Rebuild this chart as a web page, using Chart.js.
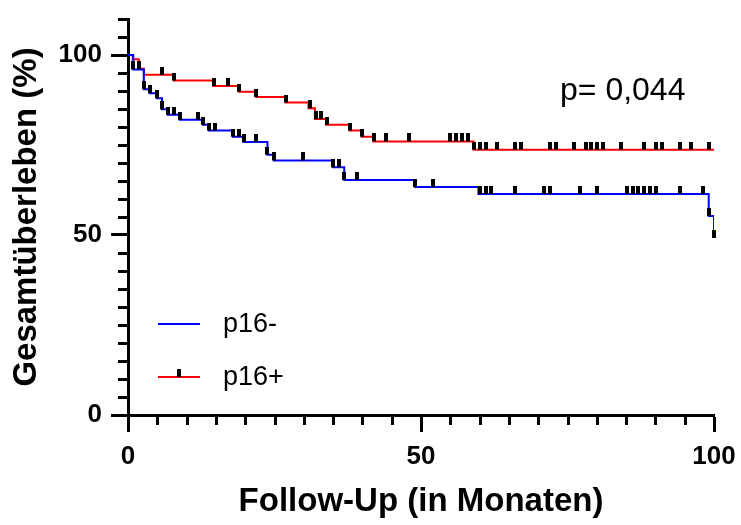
<!DOCTYPE html>
<html>
<head>
<meta charset="utf-8">
<script src="https://cdn.jsdelivr.net/npm/chart.js@4.4.0/dist/chart.umd.min.js"></script>
<style>
  html, body { margin: 0; padding: 0; background: #fff; }
  canvas { display: block; }
</style>
</head>
<body>
<canvas id="kmChart" width="741" height="525"></canvas>
<script>
// Kaplan-Meier steps: month of each drop and survival (%) after it
const negTimes = [0, 0.9, 2.7, 3.7, 4.9, 5.8, 6.8, 8.8, 12.8, 13.8, 17.9, 19.7, 23.8, 24.9, 35.0, 36.9, 49.0, 59.8, 99.1, 100];
const negSurv  = [100, 96.0, 90.5, 89.4, 88.0, 84.9, 83.4, 82.0, 80.6, 79.0, 77.3, 75.8, 72.3, 70.7, 68.8, 65.3, 63.3, 61.4, 55.3, 49.2];
const posTimes = [0, 0.8, 1.85, 2.7, 7.8, 14.6, 18.9, 21.9, 26.9, 30.8, 31.9, 33.8, 37.8, 39.9, 41.9, 59.0, 100];
const posSurv  = [100, 98.8, 96.2, 94.5, 92.9, 91.4, 89.8, 88.3, 86.8, 85.2, 82.2, 80.6, 79.0, 77.3, 76.0, 73.7, 73.7];

// censored patients (month)
const negCensored = [0.9, 1.9, 2.7, 3.7, 4.9, 5.8, 6.8, 7.8, 8.8, 11.9, 12.8, 13.8, 14.9, 17.9, 19.0, 19.8, 21.9,
  23.8, 24.9, 29.9, 35.0, 36.0, 36.9, 39.0, 49.0, 52.0, 60.1, 61.1, 61.9, 66.1, 71.0, 72.0, 77.2, 80.0,
  85.1, 86.1, 87.0, 88.1, 89.1, 90.1, 94.2, 98.1, 99.1, 100];
const posCensored = [5.8, 7.9, 14.75, 17.0, 18.9, 21.9, 27.0, 31.0, 32.0, 33.0, 34.0, 37.9, 39.9, 42.0, 44.0, 48.0,
  55.0, 56.0, 57.0, 58.1, 59.1, 60.1, 61.1, 62.9, 66.1, 67.0, 72.0, 73.1, 76.1, 78.2, 79.0, 80.0, 81.0,
  84.1, 88.1, 90.1, 91.1, 94.2, 96.1, 99.1];

const seriesLabels = ["p16-", "p16+"];
const xTicks = [0, 50, 100];
const yTicks = [0, 50, 100];
const minorStep = 5;
const pValueText = "p= 0,044";

const FONT = "'Liberation Sans', Arial, Helvetica, sans-serif";

function steps(times, surv) {
  return times.map((t, i) => ({ x: t, y: surv[i] }));
}

// a censor tick sits on the curve value at its time
function censorPoints(censored, times, surv) {
  return censored.map(t => {
    let v = surv[0];
    for (let i = 0; i < times.length; i++) if (times[i] <= t) v = surv[i];
    return { x: t, y: v };
  });
}

// black tick drawn above the point (lower half transparent)
const tickMark = document.createElement("canvas");
tickMark.width = 4;
tickMark.height = 16;
const tctx = tickMark.getContext("2d");
tctx.fillStyle = "#000";
tctx.fillRect(0, 0, 4, 8);

function noPadding(s) {
  s.paddingTop = 0;
  s.paddingBottom = 0;
  s.paddingLeft = 0;
  s.paddingRight = 0;
}

const minorTicks = {
  id: "minorTicks",
  afterDraw(chart) {
    const { ctx } = chart;
    const x = chart.scales.x, y = chart.scales.y;
    ctx.save();
    ctx.strokeStyle = "#000";
    ctx.lineWidth = 3;
    ctx.beginPath();
    for (let v = minorStep; v <= y.max; v += minorStep) {
      if (yTicks.includes(v)) continue;
      const py = Math.round(y.getPixelForValue(v)) + 0.5;
      ctx.moveTo(x.left - 10, py);
      ctx.lineTo(x.left, py);
    }
    for (let v = minorStep; v < x.max; v += minorStep) {
      if (xTicks.includes(v)) continue;
      const px = Math.round(x.getPixelForValue(v)) + 0.5;
      ctx.moveTo(px, y.bottom);
      ctx.lineTo(px, y.bottom + 10);
    }
    ctx.stroke();
    ctx.restore();
  }
};

const kmLegend = {
  id: "kmLegend",
  afterDraw(chart) {
    const { ctx, chartArea } = chart;
    const ds = chart.data.datasets;
    const rows = [
      { text: seriesLabels[0], color: ds[3].borderColor, y: chartArea.bottom - 91, tick: false },
      { text: seriesLabels[1], color: ds[2].borderColor, y: chartArea.bottom - 38, tick: true }
    ];
    ctx.save();
    rows.forEach(r => {
      const x0 = chartArea.left + 30, x1 = chartArea.left + 72;
      ctx.strokeStyle = r.color;
      ctx.lineWidth = 2;
      ctx.beginPath();
      ctx.moveTo(x0, r.y);
      ctx.lineTo(x1, r.y);
      ctx.stroke();
      if (r.tick) ctx.drawImage(tickMark, (x0 + x1) / 2 - 2, r.y - 8);
      ctx.fillStyle = "#000";
      ctx.font = "27px " + FONT;
      ctx.textBaseline = "middle";
      ctx.textAlign = "left";
      ctx.fillText(r.text, chartArea.left + 95, r.y + 1);
    });
    ctx.font = "32px " + FONT;
    ctx.textBaseline = "alphabetic";
    ctx.fillText(pValueText, chartArea.right - 154, chartArea.top + 81);
    ctx.restore();
  }
};

new Chart(document.getElementById("kmChart").getContext("2d"), {
  type: "line",
  data: {
    datasets: [
      {
        type: "scatter",
        label: seriesLabels[0] + " censored",
        data: censorPoints(negCensored, negTimes, negSurv),
        pointStyle: tickMark,
        pointRadius: 4,
        clip: false,
        order: 0
      },
      {
        type: "scatter",
        label: seriesLabels[1] + " censored",
        data: censorPoints(posCensored, posTimes, posSurv),
        pointStyle: tickMark,
        pointRadius: 4,
        clip: false,
        order: 0
      },
      {
        label: seriesLabels[1],
        data: steps(posTimes, posSurv),
        stepped: "before",
        borderColor: "#ff0000",
        borderWidth: 2,
        pointRadius: 0,
        fill: false,
        order: 2
      },
      {
        label: seriesLabels[0],
        data: steps(negTimes, negSurv),
        stepped: "before",
        borderColor: "#0000ff",
        borderWidth: 2,
        pointRadius: 0,
        fill: false,
        order: 1
      }
    ]
  },
  options: {
    responsive: false,
    animation: false,
    layout: { padding: { left: 0, right: 27, top: 19, bottom: 0 } },
    scales: {
      x: {
        type: "linear",
        min: 0,
        max: 100,
        afterBuildTicks: s => { s.ticks = xTicks.map(v => ({ value: v })); },
        afterFit: s => { s.height = 110; noPadding(s); },
        border: { display: true, color: "#000", width: 3 },
        grid: { drawOnChartArea: false, drawTicks: true, tickLength: 17, tickWidth: 3, tickColor: "#000" },
        ticks: { color: "#000", font: { family: FONT, size: 26, weight: "bold" }, padding: 9, maxRotation: 0, autoSkip: false },
        title: {
          display: true,
          text: "Follow-Up (in Monaten)",
          color: "#000",
          font: { family: FONT, size: 33, weight: "bold" },
          padding: { top: 0, bottom: 3 }
        }
      },
      y: {
        min: 0,
        max: 110,
        afterBuildTicks: s => { s.ticks = yTicks.map(v => ({ value: v })); },
        afterFit: s => { s.width = 128; noPadding(s); },
        border: { display: true, color: "#000", width: 3 },
        grid: { drawOnChartArea: false, drawTicks: true, tickLength: 17, tickWidth: 3, tickColor: "#000" },
        ticks: { color: "#000", font: { family: FONT, size: 26, weight: "bold" }, padding: 9 },
        title: {
          display: true,
          text: "Gesamtüberleben (%)",
          color: "#000",
          font: { family: FONT, size: 33, weight: "bold" },
          padding: { top: 7, bottom: 0 }
        }
      }
    },
    plugins: {
      legend: { display: false },
      tooltip: { enabled: false }
    }
  },
  plugins: [minorTicks, kmLegend]
});
</script>
</body>
</html>
